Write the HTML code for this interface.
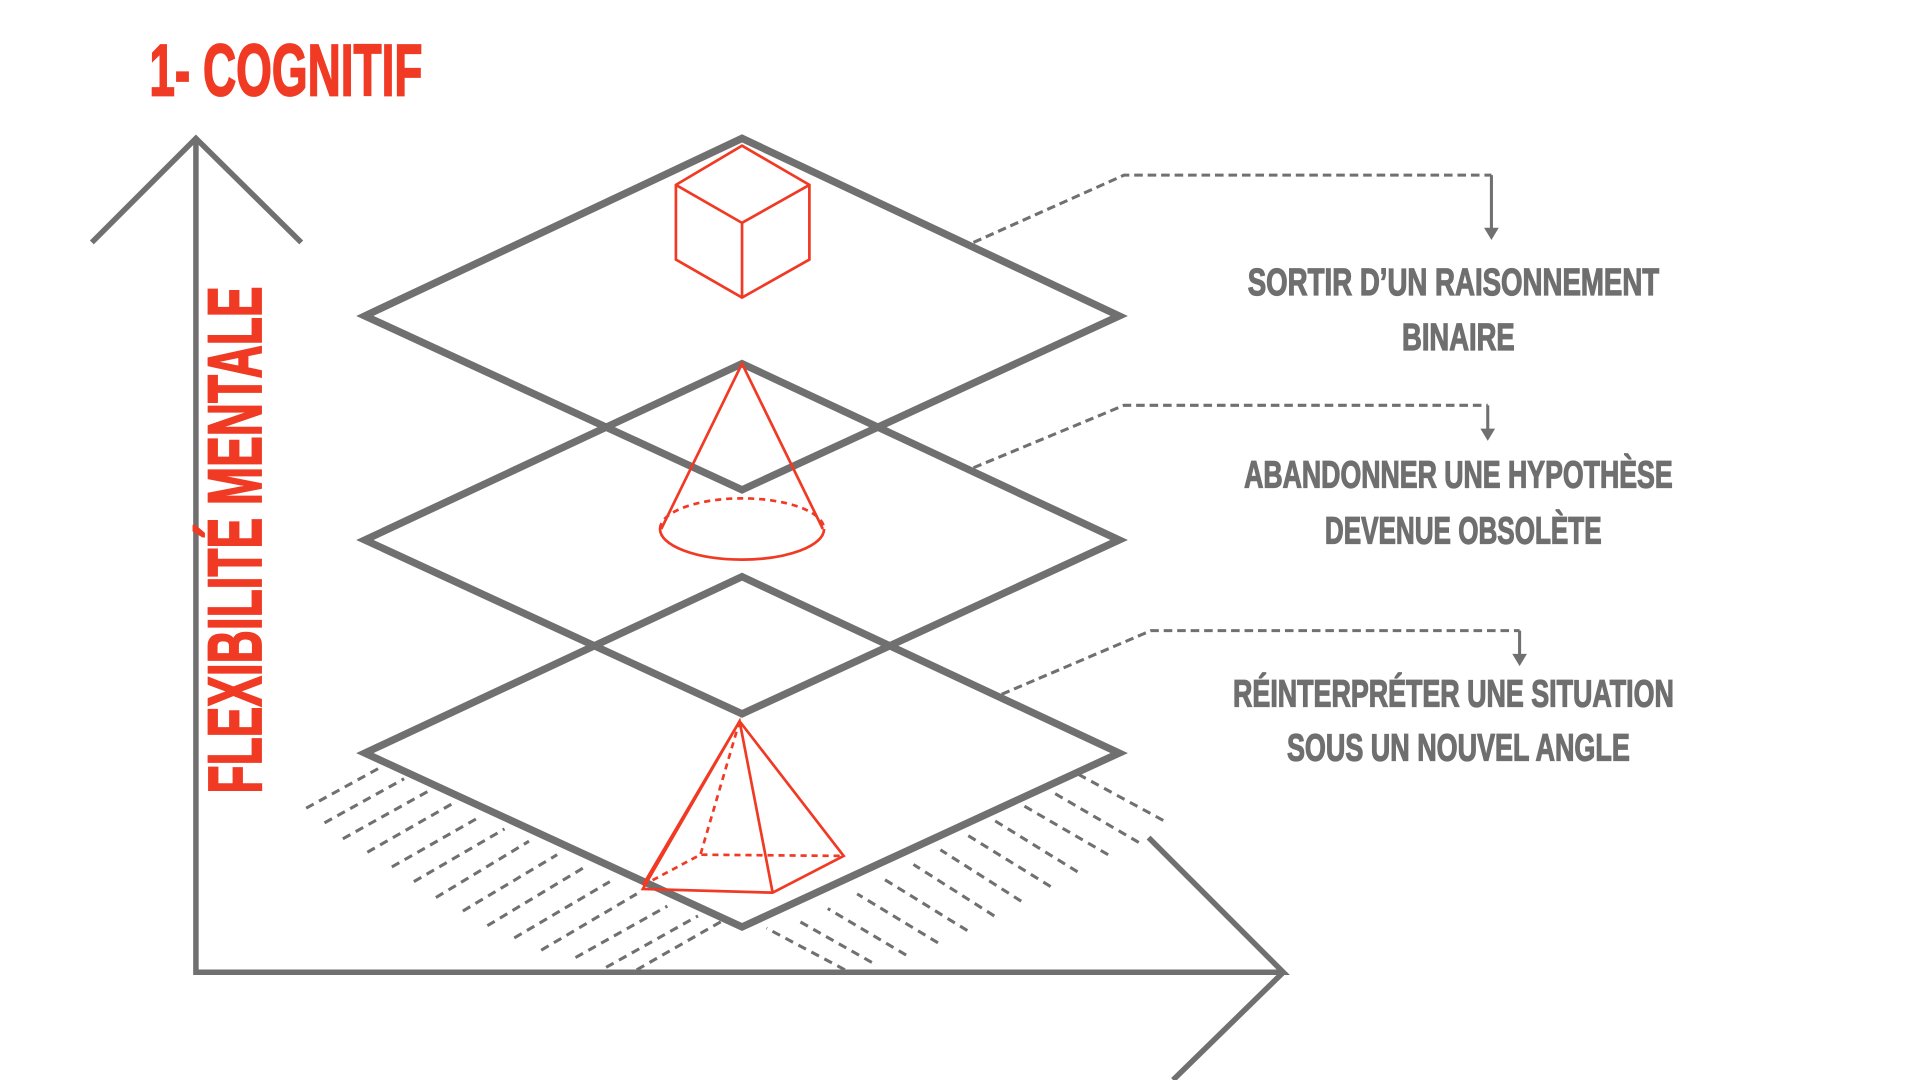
<!DOCTYPE html>
<html><head><meta charset="utf-8"><style>
html,body{margin:0;padding:0;background:#fff;width:1920px;height:1080px;overflow:hidden}
svg{display:block}
.t{font-family:"Liberation Sans Narrow","Liberation Sans",sans-serif;font-weight:bold;fill:#6f6f6f;font-size:31px;stroke:#6f6f6f;stroke-width:1}
</style></head><body>
<svg width="1920" height="1080" viewBox="0 0 1568 882" preserveAspectRatio="none" xmlns="http://www.w3.org/2000/svg">
<g stroke="#707070" stroke-width="2.5" stroke-dasharray="7,5" fill="none">
<line x1="250" y1="660" x2="312" y2="626"/>
<line x1="265" y1="672" x2="330" y2="636"/>
<line x1="280" y1="685" x2="350" y2="646"/>
<line x1="300" y1="696" x2="370" y2="656"/>
<line x1="320" y1="708" x2="392" y2="667"/>
<line x1="338" y1="720" x2="412" y2="677"/>
<line x1="356" y1="733" x2="432" y2="687"/>
<line x1="378" y1="744" x2="455" y2="698"/>
<line x1="398" y1="756" x2="476" y2="709"/>
<line x1="420" y1="766" x2="498" y2="720"/>
<line x1="442" y1="776" x2="520" y2="730"/>
<line x1="470" y1="782" x2="545" y2="740"/>
<line x1="495" y1="790" x2="570" y2="748"/>
<line x1="520" y1="792" x2="590" y2="752"/>
<line x1="950" y1="670" x2="880" y2="632"/>
<line x1="930" y1="688" x2="858" y2="646"/>
<line x1="905" y1="698" x2="836" y2="658"/>
<line x1="880" y1="712" x2="812" y2="670"/>
<line x1="858" y1="724" x2="790" y2="682"/>
<line x1="834" y1="736" x2="768" y2="694"/>
<line x1="812" y1="748" x2="746" y2="706"/>
<line x1="790" y1="760" x2="722" y2="718"/>
<line x1="766" y1="770" x2="700" y2="730"/>
<line x1="740" y1="780" x2="676" y2="742"/>
<line x1="712" y1="786" x2="652" y2="752"/>
<line x1="690" y1="792" x2="626" y2="758"/>
</g>
<g stroke="#707070" stroke-width="6" fill="none" stroke-linejoin="miter">
<polygon points="606,471 914,615 606,757 298,615" fill="#fff"/>
<polygon points="606,297 914,441 606,583 298,441"/>
<polygon points="606,113 914,258 606,400 298,258"/>
</g>
<g stroke="#707070" stroke-width="4.5" fill="none">
<polyline points="75,198 160,113 246,198"/>
<polyline points="160,113 160,794 1048,794 938,684"/>
<line x1="1048" y1="794" x2="958" y2="882"/>
</g>
<g stroke="#707070" stroke-width="2.5" fill="none" stroke-dasharray="7,4">
<polyline points="795,198 918,143 1218,143"/>
<polyline points="795,382 918,331 1215,331"/>
<polyline points="818,567 940,515 1241,515"/>
</g>
<g stroke="#707070" stroke-width="2.5">
<line x1="1218" y1="143" x2="1218" y2="188"/>
<line x1="1215" y1="331" x2="1215" y2="352"/>
<line x1="1241" y1="515" x2="1241" y2="536"/>
</g>
<g fill="#707070">
<polygon points="1212,186 1224,186 1218,196"/>
<polygon points="1209,350 1221,350 1215,360"/>
<polygon points="1235,534 1247,534 1241,544"/>
</g>
<g stroke="#f03a24" stroke-width="2.2" fill="none">
<polygon points="606,119 661,151 661,212 606,243 552,212 552,151"/>
<polyline points="552,151 606,182 661,151"/><line x1="606" y1="182" x2="606" y2="243"/>
<polyline points="540,432 606,297 672,432"/>
<path d="M539,432 A67,25 0 0 0 673,432"/>
<path d="M539,432 A67,25 0 0 1 673,432" stroke-dasharray="5,4"/>
<polyline points="525,723 604,589 689,699 631,729 525,726 604,589 631,729"/>
<polyline points="525,723 572,698 689,699" stroke-dasharray="5,4"/>
<line x1="604" y1="589" x2="572" y2="698" stroke-dasharray="5,4"/>
</g>
<text x="122" y="78" font-family="Liberation Sans Narrow,Liberation Sans,sans-serif" font-weight="bold" font-size="60" fill="#f03a24" stroke="#f03a24" stroke-width="1.5" textLength="223" lengthAdjust="spacingAndGlyphs">1- COGNITIF</text>
<text transform="translate(213,648) rotate(-90)" font-family="Liberation Sans Narrow,Liberation Sans,sans-serif" font-weight="bold" font-size="62" fill="#f03a24" stroke="#f03a24" stroke-width="1.5" textLength="414" lengthAdjust="spacingAndGlyphs">FLEXIBILITÉ MENTALE</text>
<text class="t" x="1019" y="241" textLength="336" lengthAdjust="spacingAndGlyphs">SORTIR D’UN RAISONNEMENT</text>
<text class="t" x="1145" y="286" textLength="92" lengthAdjust="spacingAndGlyphs">BINAIRE</text>
<text class="t" x="1016" y="398" textLength="350" lengthAdjust="spacingAndGlyphs">ABANDONNER UNE HYPOTHÈSE</text>
<text class="t" x="1082" y="444" textLength="226" lengthAdjust="spacingAndGlyphs">DEVENUE OBSOLÈTE</text>
<text class="t" x="1007" y="577" textLength="360" lengthAdjust="spacingAndGlyphs">RÉINTERPRÉTER UNE SITUATION</text>
<text class="t" x="1051" y="621" textLength="280" lengthAdjust="spacingAndGlyphs">SOUS UN NOUVEL ANGLE</text>
</svg>
</body></html>
